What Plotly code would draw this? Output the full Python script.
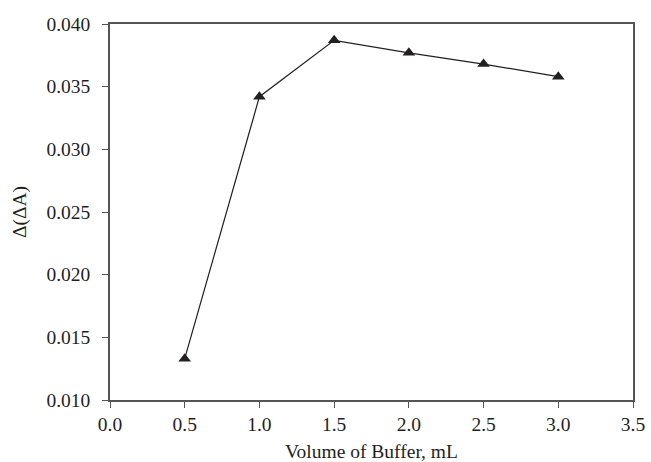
import plotly.graph_objects as go

volume = [0.5, 1.0, 1.5, 2.0, 2.5, 3.0]
delta_delta_a = [0.0133, 0.0342, 0.0387, 0.0377, 0.0368, 0.0358]

x_ticks = [0.0, 0.5, 1.0, 1.5, 2.0, 2.5, 3.0, 3.5]
y_ticks = [0.010, 0.015, 0.020, 0.025, 0.030, 0.035, 0.040]

fig = go.Figure()
fig.add_trace(go.Scatter(
    x=volume, y=delta_delta_a, mode="lines+markers",
    line=dict(color="#231f20", width=1.2),
    marker=dict(symbol="triangle-up", size=11, color="#231f20"),
    showlegend=False,
))

font = dict(family="Liberation Serif, Times New Roman, serif", size=19.5, color="#231f20")
axis_common = dict(
    showline=True, linecolor="#555555", linewidth=1.5, mirror=True,
    ticks="outside", ticklen=6, tickwidth=1.2, tickcolor="#555555",
    showgrid=False, zeroline=False, tickfont=font, automargin=False,
)
fig.update_xaxes(range=[0, 3.5], tickvals=x_ticks,
                 ticktext=[f"{v:.1f}" for v in x_ticks],
                 title=dict(text="Volume of Buffer, mL", font=font),
                 **axis_common)
fig.update_yaxes(range=[0.010, 0.040], tickvals=y_ticks,
                 ticktext=[f"{v:.3f}" for v in y_ticks],
                 ticklabelstandoff=8,
                 title=dict(text="Δ(ΔA)", font=font),
                 **axis_common)
fig.update_layout(
    width=651, height=462,
    margin=dict(l=110, r=18, t=24, b=62),
    paper_bgcolor="white", plot_bgcolor="white",
    font=font,
)
fig.write_html("out.html")
